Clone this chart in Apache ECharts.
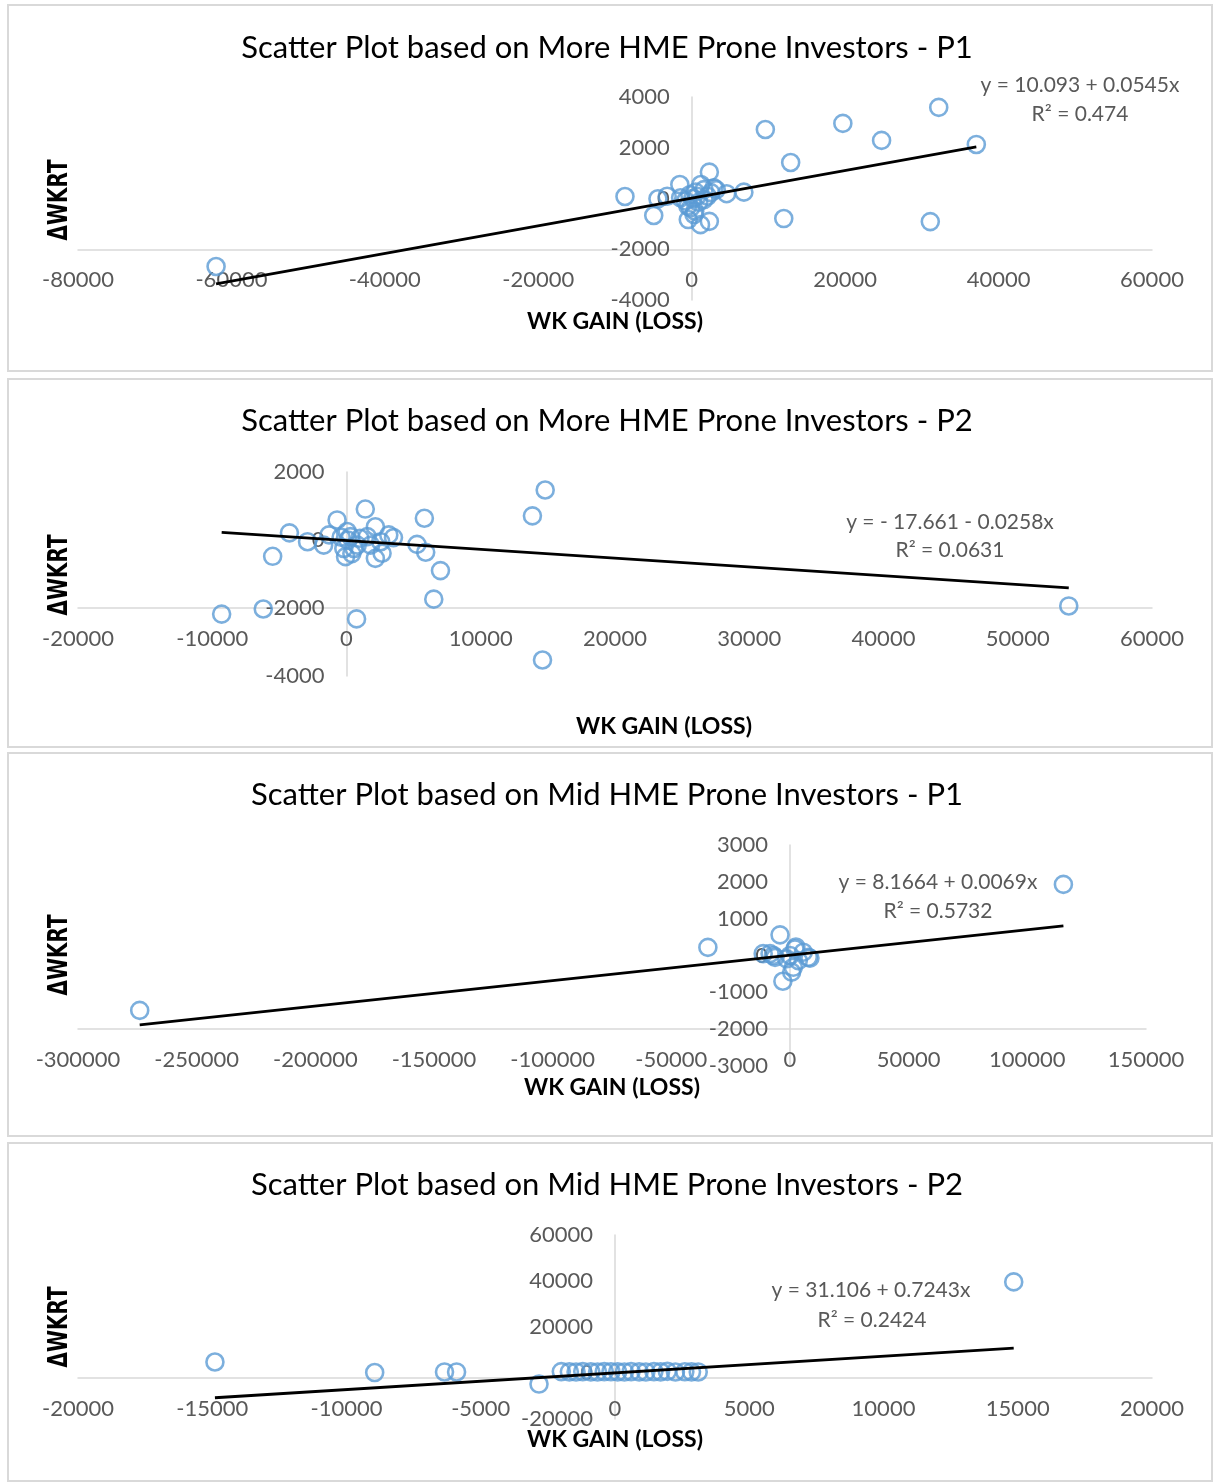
<!DOCTYPE html>
<html>
<head>
<meta charset="utf-8">
<script src="https://cdn.jsdelivr.net/npm/echarts@6/dist/echarts.min.js"></script>
<style>
  html, body { margin: 0; padding: 0; background: #ffffff; }
  #chart { width: 1214px; height: 1483px; }
</style>
</head>
<body>
<div id="chart"></div>
<script>
// ---- Chart titles ----
const titles = [
  'Scatter Plot based on More HME Prone Investors - P1',
  'Scatter Plot based on More HME Prone Investors - P2',
  'Scatter Plot based on Mid HME Prone Investors - P1',
  'Scatter Plot based on Mid HME Prone Investors - P2'
];
const xAxisTitle = 'WK GAIN (LOSS)';
const yAxisTitle = 'ΔWKRT';

// ---- Observations: [WK gain (loss), ΔWKRT] ----
const moreP1 = [
  [-62000, -2680], [-8700, 80], [-4950, -670], [-4400, -10], [-3200, 90],
  [-1550, 550], [-1450, 30], [-800, -100], [-500, -300], [-450, -830],
  [-250, 150], [-150, -370], [150, 0], [300, -630], [400, -500],
  [500, 250], [700, 90], [900, -150], [1200, 550], [1150, -1030],
  [1600, 350], [1600, -40], [2050, 90], [2300, 1040], [2300, -900],
  [2500, 230], [2900, 420], [3200, 350], [4550, 190], [6800, 250],
  [9600, 2720], [12000, -790], [12900, 1420], [19700, 2960], [24750, 2290],
  [31100, -910], [32200, 3590], [37100, 2130]
];
const moreP2 = [
  [-9300, -2180], [-6200, -2030], [-5500, -480], [-4250, 210], [-2900, -50],
  [-1700, -150], [-1300, 150], [-700, 590], [-400, 80], [-200, -250],
  [-70, -490], [50, 250], [100, 0], [300, 100], [400, -400],
  [550, -250], [750, -2320], [800, -150], [1000, 50], [1400, 910],
  [1550, 100], [1800, -150], [2150, 390], [2150, -540], [2550, -50],
  [2650, -390], [3150, 150], [3500, 70], [5250, -130], [5900, -360],
  [5800, 640], [6500, -1740], [7000, -900], [13850, 710], [14800, 1470],
  [14600, -3530], [53800, -1940]
];
const midP1 = [
  [-274000, -1490], [-34600, 220], [-11300, 50], [-8400, 50], [-7000, 0],
  [-6300, -50], [-4200, 560], [-3000, -700], [-1400, -90], [0, 0],
  [700, -450], [1400, -320], [2100, 180], [2500, 230], [3500, -140],
  [5600, 90], [7700, -50], [8400, -70], [115200, 1930]
];
const midP2 = [
  [-14900, 4780], [-8950, 200], [-6350, 450], [-5900, 450], [-2830, -4800],
  [-2000, 600], [-1700, 500], [-1450, 450], [-1200, 600], [-900, 500],
  [-650, 450], [-400, 600], [-150, 550], [100, 500], [350, 450],
  [600, 600], [900, 500], [1150, 450], [1450, 600], [1700, 500],
  [1950, 700], [2250, 450], [2600, 550], [2850, 500], [3100, 450],
  [14850, 39600]
];
const datasets = [moreP1, moreP2, midP1, midP2];

// ---- Linear trend lines: [intercept, slope] and R² ----
const trendCoefs = [[10.093, 0.0545], [-17.661, -0.0258], [8.1664, 0.0069], [31.106, 0.7243]];
const trendR2 = ['0.474', '0.0631', '0.5732', '0.2424'];

// ---- Axis ranges: [min, max, interval] ----
const xRanges = [[-80000, 60000, 20000], [-20000, 60000, 10000], [-300000, 150000, 50000], [-20000, 20000, 5000]];
const yRanges = [[-4000, 4000, 2000], [-4000, 2000, 2000], [-3000, 3000, 1000], [-20000, 60000, 20000]];
const xCrossAt = -2000; // horizontal axis crosses the vertical axis here

// ---- Page layout (pixels) ----
const layout = [
  { frame: [8, 5, 1204, 366], titleY: 47, grid: { left: 78, top: 97, width: 1074, height: 203 },
    xName: [615, 322], yName: [60, 200], eq: [1080, 85], r2: [1080, 114] },
  { frame: [8, 379, 1204, 368], titleY: 420, grid: { left: 78, top: 472, width: 1074, height: 204 },
    xName: [664, 727], yName: [60, 575], eq: [950, 522], r2: [950, 550] },
  { frame: [8, 753, 1204, 383], titleY: 794, grid: { left: 78, top: 845, width: 1068, height: 221 },
    xName: [612, 1088], yName: [60, 955], eq: [938, 882], r2: [938, 911] },
  { frame: [8, 1143, 1204, 338], titleY: 1184, grid: { left: 78, top: 1235, width: 1074, height: 184 },
    xName: [615, 1440], yName: [60, 1327], eq: [871, 1290], r2: [872, 1320] }
];

const FONT = 'Lato, "Open Sans", sans-serif';
const LABEL_COLOR = '#595959';
const LINE_COLOR = '#d9d9d9';
const MARKER_COLOR = '#5b9bd5';

function plain(v) { return String(v); }
function fmtNum(v) { return String(Math.abs(v)); }
function equationText(c) {
  const a = c[0], b = c[1];
  const aPart = a < 0 ? '- ' + fmtNum(a) : fmtNum(a);
  const bPart = (b < 0 ? ' - ' : ' + ') + fmtNum(b) + 'x';
  return 'y = ' + aPart + bPart;
}

const option = {
  backgroundColor: '#ffffff',
  animation: false,
  title: [], grid: [], xAxis: [], yAxis: [], series: [], graphic: []
};

layout.forEach(function (L, i) {
  const g = L.grid;
  const xr = xRanges[i], yr = yRanges[i];
  // pixel position of the crossing line and of x = 0
  const crossY = g.top + g.height * (yr[1] - xCrossAt) / (yr[1] - yr[0]);
  const zeroX = g.left + g.width * (0 - xr[0]) / (xr[1] - xr[0]);

  option.graphic.push({
    type: 'rect', silent: true,
    shape: { x: L.frame[0], y: L.frame[1], width: L.frame[2], height: L.frame[3] },
    style: { fill: 'none', stroke: LINE_COLOR, lineWidth: 2 }
  });

  option.title.push({
    text: titles[i], left: 'center', top: L.titleY - 20,
    textStyle: { fontFamily: FONT, fontSize: 31, fontWeight: 'normal', color: '#000000' }
  });

  option.grid.push({ left: g.left, top: g.top, width: g.width, height: g.height, containLabel: false });

  option.xAxis.push({
    type: 'value', gridIndex: i, min: xr[0], max: xr[1], interval: xr[2],
    position: 'bottom', offset: crossY - (g.top + g.height),
    axisLine: { onZero: false, lineStyle: { color: LINE_COLOR, width: 1.5 } },
    axisTick: { show: false }, splitLine: { show: false },
    axisLabel: { color: LABEL_COLOR, fontFamily: FONT, fontSize: 22, margin: 20, formatter: plain }
  });

  option.yAxis.push({
    type: 'value', gridIndex: i, min: yr[0], max: yr[1], interval: yr[2],
    position: 'left', offset: -(zeroX - g.left),
    axisLine: { onZero: false, lineStyle: { color: LINE_COLOR, width: 1.5 } },
    axisTick: { show: false }, splitLine: { show: false },
    axisLabel: { color: LABEL_COLOR, fontFamily: FONT, fontSize: 22, margin: 22, formatter: plain }
  });

  const pts = datasets[i];
  option.series.push({
    type: 'scatter', xAxisIndex: i, yAxisIndex: i, data: pts,
    symbol: 'circle', symbolSize: 17,
    itemStyle: { color: 'rgba(255,255,255,0)', borderColor: MARKER_COLOR, borderWidth: 2.6 },
    z: 2
  });

  // trend line spans the observed range of the gain values
  const xs = pts.map(function (p) { return p[0]; });
  const x0 = Math.min.apply(null, xs), x1 = Math.max.apply(null, xs);
  const c = trendCoefs[i];
  option.series.push({
    type: 'line', xAxisIndex: i, yAxisIndex: i,
    data: [[x0, c[0] + c[1] * x0], [x1, c[0] + c[1] * x1]],
    symbol: 'none', silent: true,
    lineStyle: { color: '#000000', width: 2.8 },
    z: 3
  });

  option.graphic.push({
    type: 'text', x: L.eq[0], y: L.eq[1], silent: true,
    style: { text: equationText(c), fill: LABEL_COLOR, font: '21px ' + FONT, align: 'center', verticalAlign: 'middle' }
  });
  option.graphic.push({
    type: 'text', x: L.r2[0], y: L.r2[1], silent: true,
    style: { text: 'R² = ' + trendR2[i], fill: LABEL_COLOR, font: '21px ' + FONT, align: 'center', verticalAlign: 'middle' }
  });
  option.graphic.push({
    type: 'text', x: L.xName[0], y: L.xName[1], silent: true,
    style: { text: xAxisTitle, fill: '#000000', font: 'bold 23px ' + FONT, align: 'center', verticalAlign: 'middle' }
  });
  option.graphic.push({
    type: 'text', x: L.yName[0], y: L.yName[1], rotation: Math.PI / 2, scaleY: 1.3, silent: true,
    style: { text: yAxisTitle, fill: '#000000', font: 'bold 20px "DejaVu Sans", sans-serif', align: 'center', verticalAlign: 'middle' }
  });
});

const chart = echarts.init(document.getElementById('chart'), null, { renderer: 'canvas' });
chart.setOption(option);
</script>
</body>
</html>
